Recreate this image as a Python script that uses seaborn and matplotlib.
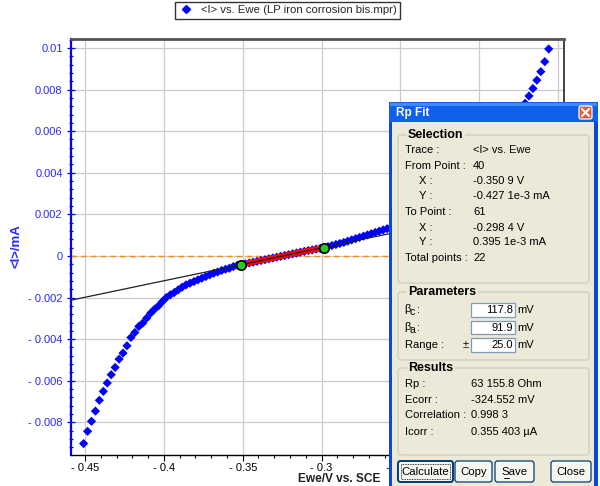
"""
Rp fit (polarisation resistance) on the <I> vs. Ewe curve, with the EC-Lab style
"Rp Fit" dialog drawn over the right part of the plot.
"""

import matplotlib
matplotlib.use("Agg")
import matplotlib.pyplot as plt
import matplotlib.ticker as mticker
from matplotlib.lines import Line2D
from matplotlib.patches import Rectangle, FancyBboxPatch
import seaborn as sns

# ── Data ─────────────────────────────────────────────────────────────────────
EWE_V = [
    -0.4509, -0.4484, -0.4459, -0.4434, -0.4409, -0.4384, -0.4359, -0.4334, -0.4309, -0.4284,
    -0.4259, -0.4234, -0.4209, -0.4184, -0.4159, -0.4134, -0.4109, -0.4084, -0.4059, -0.4034,
    -0.4009, -0.3984, -0.3959, -0.3934, -0.3909, -0.3884, -0.3859, -0.3834, -0.3809, -0.3784,
    -0.3759, -0.3734, -0.3709, -0.3684, -0.3659, -0.3634, -0.3609, -0.3584, -0.3559, -0.3534,
    -0.3509, -0.3484, -0.3459, -0.3434, -0.3409, -0.3384, -0.3359, -0.3334, -0.3309, -0.3284,
    -0.3259, -0.3234, -0.3209, -0.3184, -0.3159, -0.3134, -0.3109, -0.3084, -0.3059, -0.3034,
    -0.3009, -0.2984, -0.2959, -0.2934, -0.2909, -0.2884, -0.2859, -0.2834, -0.2809, -0.2784,
    -0.2759, -0.2734, -0.2709, -0.2684, -0.2659, -0.2634, -0.2609, -0.2584, -0.2559, -0.2534,
    -0.2509, -0.2484, -0.2459, -0.2434, -0.2409, -0.2384, -0.2359, -0.2334, -0.2309, -0.2284,
    -0.2259, -0.2234, -0.2209, -0.2184, -0.2159, -0.2134, -0.2109, -0.2084, -0.2059, -0.2034,
    -0.2009, -0.1984, -0.1959, -0.1934, -0.1909, -0.1884, -0.1859, -0.1834, -0.1809, -0.1784,
    -0.1759, -0.1734, -0.1709, -0.1684, -0.1659, -0.1634, -0.1609, -0.1584, -0.1559,
]
I_MA = [
    -0.00902, -0.00843, -0.00795, -0.00746, -0.00694, -0.00651, -0.00611, -0.00571, -0.00536, -0.00496,
    -0.00467, -0.00432, -0.00392, -0.00368, -0.00339, -0.00323, -0.00299, -0.00275, -0.00256, -0.00240,
    -0.00219, -0.00200, -0.00187, -0.00176, -0.00163, -0.00150, -0.00139, -0.00131, -0.00123, -0.00115,
    -0.00107, -0.00099, -0.00091, -0.00083, -0.00077, -0.00070, -0.00064, -0.00059, -0.00051, -0.00045,
    -0.000427, -0.00038, -0.00034, -0.00030, -0.00026, -0.00022, -0.00018, -0.00014, -0.00010, -0.00006,
    -0.00002, 0.00002, 0.00006, 0.00010, 0.00014, 0.00018, 0.00022, 0.00026, 0.00029, 0.00033,
    0.00036, 0.000395, 0.00045, 0.00050, 0.00055, 0.00060, 0.00065, 0.00071, 0.00077, 0.00083,
    0.00089, 0.00095, 0.00101, 0.00107, 0.00113, 0.00119, 0.00125, 0.00131, 0.00138, 0.00145,
    0.00152, 0.00160, 0.00168, 0.00177, 0.00186, 0.00196, 0.00206, 0.00217, 0.00228, 0.00240,
    0.00252, 0.00265, 0.00279, 0.00293, 0.00308, 0.00324, 0.00341, 0.00358, 0.00376, 0.00395,
    0.00415, 0.00436, 0.00458, 0.00481, 0.00505, 0.00530, 0.00556, 0.00583, 0.00611, 0.00640,
    0.00670, 0.00701, 0.00734, 0.00769, 0.00805, 0.00845, 0.00886, 0.00934, 0.00995,
]
FIT_FROM, FIT_TO = 40, 61          # point indices of the fitted window
RP_OHM = 63155.8
ECORR_V = -0.324552

# -0.2 and -0.15 sit under the dialog, only the "-" of -0.25 peeks out
X_TICKS = [-0.45, -0.4, -0.35, -0.3, -0.25, -0.2, -0.15]
X_TICK_LABELS = ["- 0.45", "- 0.4", "- 0.35", "- 0.3", "- 0.25", "", ""]
Y_TICKS = [-0.008, -0.006, -0.004, -0.002, 0, 0.002, 0.004, 0.006, 0.008, 0.01]
XLIM = (-0.4589, -0.1462)
YLIM = (-0.00957, 0.01043)

LEGEND_LABEL = "<I> vs. Ewe (LP iron corrosion bis.mpr)"
X_LABEL = "Ewe/V vs. SCE"
Y_LABEL = "<I>/mA"

SEL_LABELS = ["Trace :", "From Point :", "X :", "Y :", "To Point :", "X :", "Y :", "Total points :"]
SEL_VALUES = ["<I> vs. Ewe", "40", "-0.350 9 V", "-0.427 1e-3 mA", "61",
              "-0.298 4 V", "0.395 1e-3 mA", "22"]
PARAM_SUBS = ["c", "a"]
PARAM_VALUES = ["117.8", "91.9", "25.0"]
RES_LABELS = ["Rp :", "Ecorr :", "Correlation :", "Icorr :"]
RES_VALUES = ["63 155.8 Ohm", "-324.552 mV", "0.998 3", "0.355 403 µA"]
BUTTONS = ["Calculate", "Copy", "Save", "Close"]

# ── Style ────────────────────────────────────────────────────────────────────
BLUE = "#0000FF"
TICK_BLUE = "#2828FF"
XP_BG = "#ECE9D8"
XP_FRAME = "#0A48D8"
XP_TITLE = "#1060EA"
GROUP_EDGE = "#D0D0BF"

sns.set_theme(style="whitegrid")
plt.rcParams.update({
    "figure.facecolor": "white",
    "axes.facecolor": "white",
    "font.size": 8,
})
plt.rcParams["font.family"] = ["Liberation Sans", "DejaVu Sans"]

fig = plt.figure(figsize=(6.0, 4.86), dpi=100)
ax = fig.add_axes([71 / 600, 31 / 486, 493 / 600, 416 / 486])

# ── Curve, fitted window and fit line ────────────────────────────────────────
sns.scatterplot(x=EWE_V, y=I_MA, marker="D", s=22, color=BLUE, edgecolor="none",
                linewidth=0, ax=ax, zorder=3)

fx = EWE_V[FIT_FROM:FIT_TO + 1]
fy = I_MA[FIT_FROM:FIT_TO + 1]
sns.lineplot(x=fx, y=fy, color="red", lw=4, sort=False, ax=ax, zorder=4)
sns.scatterplot(x=fx, y=fy, marker="P", s=14, color="red", edgecolor="none",
                linewidth=0, ax=ax, zorder=4)

line_x = list(XLIM)
line_y = [(v - ECORR_V) / RP_OHM * 1000 for v in line_x]
ax.plot(line_x, line_y, color="#202020", lw=0.9, zorder=5)

ax.scatter([EWE_V[FIT_FROM], EWE_V[FIT_TO]], [I_MA[FIT_FROM], I_MA[FIT_TO]],
           s=46, color="#22CC22", edgecolor="black", linewidth=1.2, zorder=6)

ax.axhline(0, color="#FF8C00", lw=1, ls=(0, (4, 3)), zorder=2)

# ── Axes cosmetics ───────────────────────────────────────────────────────────
ax.set_xlim(*XLIM)
ax.set_ylim(*YLIM)
ax.set_xticks(X_TICKS)
ax.set_xticklabels(X_TICK_LABELS)
ax.set_yticks(Y_TICKS)
ax.xaxis.set_minor_locator(mticker.MultipleLocator(0.01))
ax.yaxis.set_minor_locator(mticker.MultipleLocator(0.0004))


def signed(v, _=None):
    if abs(v) < 1e-12:
        return "0"
    if v < 0:
        return "- " + f"{-v:g}"
    return f"{v:g}"


ax.yaxis.set_major_formatter(mticker.FuncFormatter(signed))
ax.grid(True, which="major", color="#CACACA", lw=0.9)
ax.grid(False, which="minor")

ax.tick_params(axis="x", which="major", direction="out", length=4, width=0.8,
               color="black", labelcolor="black", labelsize=8, pad=2, bottom=True)
ax.tick_params(axis="x", which="minor", direction="out", length=2.5, width=0.8,
               color="black", bottom=True)
ax.tick_params(axis="y", which="major", direction="inout", length=6, width=0.9,
               color=BLUE, labelcolor=TICK_BLUE, labelsize=8, pad=3, left=True)
ax.tick_params(axis="y", which="minor", direction="inout", length=3.5, width=0.9,
               color=BLUE, left=True)

ax.spines["left"].set_color(BLUE)
ax.spines["left"].set_linewidth(1.6)
ax.spines["bottom"].set_color("black")
ax.spines["bottom"].set_linewidth(1)
ax.spines["top"].set_color("#555555")
ax.spines["top"].set_linewidth(2)
ax.spines["right"].set_color("#222222")
ax.spines["right"].set_linewidth(1.2)
ax.set_xlabel("")
ax.set_ylabel("")

fig.text(380 / 600, 1 - 479 / 486, X_LABEL, ha="right", va="center",
         fontsize=8.6, fontweight="bold", color="#202020")
fig.text(17 / 600, 1 - 246 / 486, Y_LABEL, ha="center", va="center", rotation=90,
         fontsize=9.5, fontweight="bold", color=TICK_BLUE)

handle = Line2D([], [], marker="D", ls="none", color=BLUE, ms=3.8)
fig.legend(handles=[handle], labels=[LEGEND_LABEL], loc="upper center",
           bbox_to_anchor=(287.5 / 600, 1 - 2 / 486), frameon=True, fancybox=False,
           edgecolor="#333333", framealpha=1, fontsize=8.2, handlelength=1.4,
           handletextpad=0.6, borderpad=0.3, borderaxespad=0)

# ── "Rp Fit" dialog (pixel coordinates, y pointing down) ─────────────────────
ov = fig.add_axes([0, 0, 1, 1], zorder=10)
ov.set_xlim(0, 600)
ov.set_ylim(486, 0)
ov.axis("off")


def rect(x0, y0, x1, y1, **kw):
    ov.add_patch(Rectangle((x0, y0), x1 - x0, y1 - y0, **kw))


def label(x, y, s, **kw):
    kw.setdefault("fontsize", 8)
    kw.setdefault("color", "black")
    ov.text(x, y, s, va="center", **kw)


def group(y0, y1, title):
    ov.add_patch(FancyBboxPatch((398, y0), 191, y1 - y0,
                                boxstyle="round,pad=0,rounding_size=3",
                                fc="none", ec=GROUP_EDGE, lw=1))
    label(408, y0, title, fontweight="bold", fontsize=9,
          bbox=dict(fc=XP_BG, ec="none", pad=1))


rect(389, 102, 598, 486, fc=XP_FRAME, ec="none")
rect(389, 102, 598, 122, fc=XP_TITLE, ec="none")
rect(390, 103, 597, 106, fc="#3D8DF7", ec="none")
rect(392, 122, 594, 486, fc=XP_BG, ec="none")
label(396, 113, "Rp Fit", color="white", fontweight="bold", fontsize=8.5)

# close button
ov.add_patch(FancyBboxPatch((579, 106), 13, 13, boxstyle="round,pad=0,rounding_size=2",
                            fc="#E2582F", ec="white", lw=0.9))
ov.plot([582, 589], [109, 116], color="white", lw=1.6)
ov.plot([582, 589], [116, 109], color="white", lw=1.6)

# Selection
group(135, 283, "Selection")
sel_y = [150, 165.7, 181, 196, 212.3, 227.7, 242.3, 258.3]
for lab, val, yy in zip(SEL_LABELS, SEL_VALUES, sel_y):
    xl = 419 if lab in ("X :", "Y :") else 405
    label(xl, yy, lab)
    label(473, yy, val)

# Parameters
group(292, 360, "Parameters")
par_y = [310, 327.7, 345]
box_y = [(303.3, 316.7), (321, 334.3), (338.3, 351.7)]
for sub, yy in zip(PARAM_SUBS, par_y[:2]):
    label(404, yy - 1, "β", fontsize=8)
    label(410, yy + 2, sub, fontsize=7.5)
    label(417, yy, ":")
label(405, par_y[2], "Range :")
label(463, par_y[2], "±")
for val, (b0, b1) in zip(PARAM_VALUES, box_y):
    rect(471, b0, 515, b1, fc="white", ec="#7F9DB9", lw=0.9)
    label(513, (b0 + b1) / 2, val, ha="right")
    label(517, (b0 + b1) / 2, "mV")

# Results
group(368, 455, "Results")
res_y = [384, 400, 415, 431.7]
for lab, val, yy in zip(RES_LABELS, RES_VALUES, res_y):
    label(405, yy, lab)
    label(471, yy, val)

# buttons
btn_x = [(398, 453), (455, 492), (495, 534), (551, 591)]
for name, (b0, b1) in zip(BUTTONS, btn_x):
    lw = 1.4 if name == "Calculate" else 0.9
    ov.add_patch(FancyBboxPatch((b0, 461), b1 - b0, 21,
                                boxstyle="round,pad=0,rounding_size=2.5",
                                fc="#F6F5F0", ec="#003C74", lw=lw))
    label((b0 + b1) / 2, 471.5, name, ha="center", fontsize=8.2)
ov.add_patch(Rectangle((401, 464), 49, 15, fc="none", ec="black", lw=0.6, ls=(0, (1, 1))))
ov.plot([503.5, 509], [477.5, 477.5], color="black", lw=0.7)

fig.savefig("out.png", dpi=100)
